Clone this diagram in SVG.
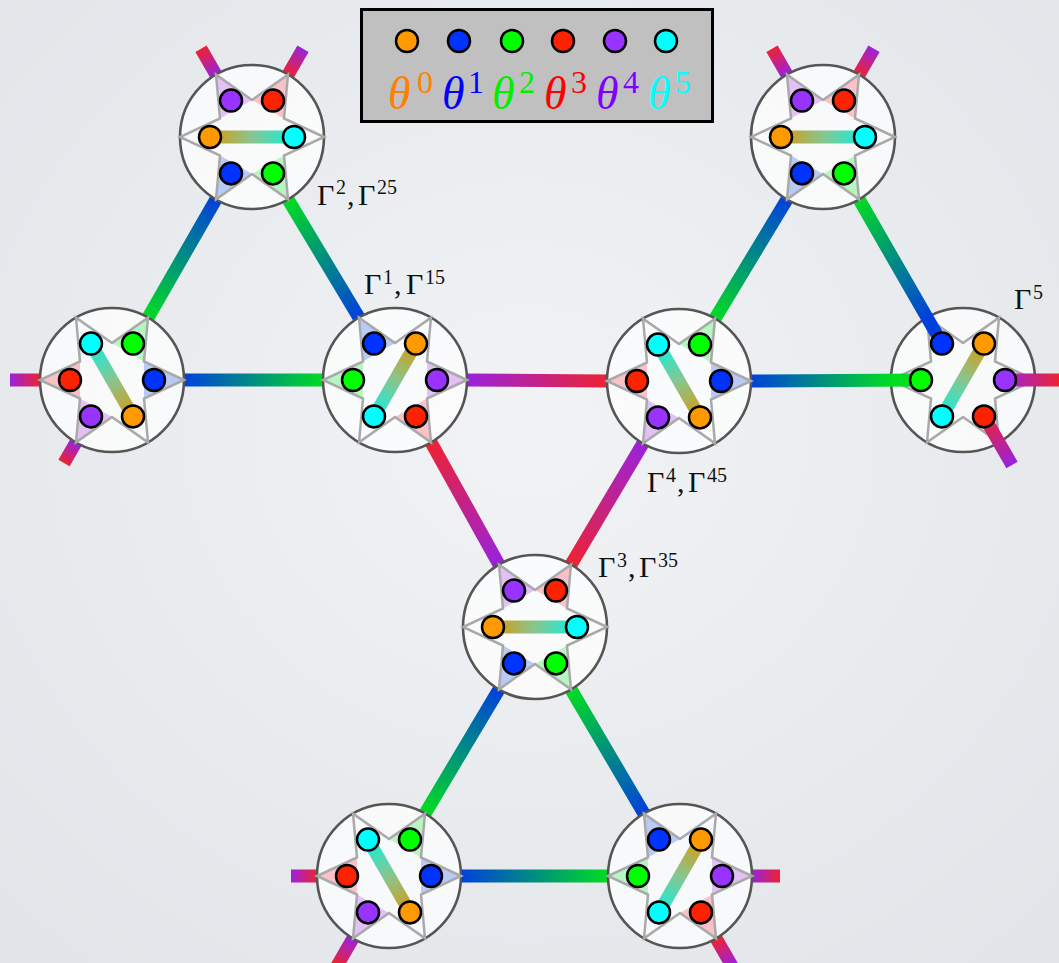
<svg xmlns="http://www.w3.org/2000/svg" width="1059" height="963" viewBox="0 0 1059 963">
<defs>
<style>
.disc{fill:#fff;fill-opacity:.72;stroke:#555;stroke-width:2.6}
.star{fill:none;stroke:#a9a9a9;stroke-width:2.5;stroke-linejoin:miter}
.dot{stroke:#000;stroke-width:2.5}
.bar{stroke-width:13;fill:none}
.link{stroke-width:13;fill:none;stroke-linecap:butt}
.lbl{font-family:"Liberation Serif","DejaVu Serif",serif;font-size:30px;fill:#111}
.sup{font-size:20px}
.th{font-family:"Liberation Serif","DejaVu Serif",serif;font-size:46px;font-style:italic}
.ths{font-style:normal;font-size:32px}
.o{fill:#ff9900}.b{fill:#0033ff}.g{fill:#00ff00}.r{fill:#ff2200}.p{fill:#9933ff}.c{fill:#00ffff}
.tp{fill:#9922dd}.tr{fill:#ee2233}.tb{fill:#0040dd}.tg{fill:#00dd22}
</style>
<radialGradient id="bgG" cx="50%" cy="45%" r="75%">
<stop offset="0" stop-color="#f1f3f5"/>
<stop offset="1" stop-color="#e1e4e8"/>
</radialGradient>
<linearGradient id="BG"><stop offset="0" stop-color="#0040dd"/><stop offset="1" stop-color="#00dd22"/></linearGradient>
<linearGradient id="PR"><stop offset="0" stop-color="#9922dd"/><stop offset="1" stop-color="#ee2233"/></linearGradient>
<linearGradient id="OC"><stop offset="0" stop-color="#d89a10"/><stop offset="0.5" stop-color="#88c590"/><stop offset="1" stop-color="#10f0e0"/></linearGradient>
<linearGradient id="barH" href="#OC" gradientUnits="userSpaceOnUse" x1="-42" y1="0" x2="42" y2="0"/>
<linearGradient id="barB" href="#OC" gradientUnits="userSpaceOnUse" x1="21" y1="36.4" x2="-21" y2="-36.4"/>
<linearGradient id="barC" href="#OC" gradientUnits="userSpaceOnUse" x1="21" y1="-36.4" x2="-21" y2="36.4"/>
<linearGradient id="gc1" href="#BG" gradientUnits="userSpaceOnUse" x1="216" y1="199.35" x2="148" y2="317.65"/>
<linearGradient id="gc2" href="#BG" gradientUnits="userSpaceOnUse" x1="359" y1="317.65" x2="288" y2="199.35"/>
<linearGradient id="gc3" href="#BG" gradientUnits="userSpaceOnUse" x1="184" y1="380" x2="323" y2="380"/>
<linearGradient id="gc4" href="#PR" gradientUnits="userSpaceOnUse" x1="467" y1="380" x2="607" y2="381"/>
<linearGradient id="gc5" href="#PR" gradientUnits="userSpaceOnUse" x1="499" y1="564.65" x2="431" y2="442.35"/>
<linearGradient id="gc6" href="#PR" gradientUnits="userSpaceOnUse" x1="643" y1="443.35" x2="571" y2="564.65"/>
<linearGradient id="gc7" href="#BG" gradientUnits="userSpaceOnUse" x1="787" y1="199.35" x2="715" y2="318.65"/>
<linearGradient id="gc8" href="#BG" gradientUnits="userSpaceOnUse" x1="751" y1="381" x2="891" y2="380"/>
<linearGradient id="gc9" href="#BG" gradientUnits="userSpaceOnUse" x1="927" y1="317.65" x2="859" y2="199.35"/>
<linearGradient id="gc10" href="#BG" gradientUnits="userSpaceOnUse" x1="499" y1="689.35" x2="425" y2="813.65"/>
<linearGradient id="gc11" href="#BG" gradientUnits="userSpaceOnUse" x1="644" y1="813.65" x2="571" y2="689.35"/>
<linearGradient id="gc12" href="#BG" gradientUnits="userSpaceOnUse" x1="461" y1="876" x2="608" y2="876"/>
<linearGradient id="gs1" href="#PR" gradientUnits="userSpaceOnUse" x1="216" y1="74.65" x2="201" y2="48.7"/>
<linearGradient id="gs2" href="#PR" gradientUnits="userSpaceOnUse" x1="303" y1="48.7" x2="288" y2="74.65"/>
<linearGradient id="gs3" href="#PR" gradientUnits="userSpaceOnUse" x1="787" y1="74.65" x2="772" y2="48.7"/>
<linearGradient id="gs4" href="#PR" gradientUnits="userSpaceOnUse" x1="874" y1="48.7" x2="859" y2="74.65"/>
<linearGradient id="gs5" href="#PR" gradientUnits="userSpaceOnUse" x1="10" y1="380" x2="40" y2="380"/>
<linearGradient id="gs6" href="#PR" gradientUnits="userSpaceOnUse" x1="76" y1="442.35" x2="64" y2="463.1"/>
<linearGradient id="gs7" href="#PR" gradientUnits="userSpaceOnUse" x1="1005" y1="380" x2="1059" y2="380"/>
<linearGradient id="gs8" href="#PR" gradientUnits="userSpaceOnUse" x1="1012" y1="465" x2="984" y2="416.4"/>
<linearGradient id="gs9" href="#PR" gradientUnits="userSpaceOnUse" x1="291" y1="876" x2="317" y2="876"/>
<linearGradient id="gs10" href="#PR" gradientUnits="userSpaceOnUse" x1="353" y1="938.35" x2="337" y2="966"/>
<linearGradient id="gs11" href="#PR" gradientUnits="userSpaceOnUse" x1="752" y1="876" x2="780" y2="876"/>
<linearGradient id="gs12" href="#PR" gradientUnits="userSpaceOnUse" x1="732" y1="966" x2="716" y2="938.35"/>
<circle id="disc" class="disc" r="72"/>
<path id="star" class="star" d="M72,0 L32,-18.5 L36,-62.35 L0,-37 L-36,-62.35 L-32,-18.5 L-72,0 L-32,18.5 L-36,62.35 L0,37 L36,62.35 L32,18.5 Z"/>
<g id="tint1">
<polygon class="tp" points="-36,-62.35 0,-37 -32,-18.5"/>
<polygon class="tr" points="36,-62.35 32,-18.5 0,-37"/>
<polygon class="tb" points="-36,62.35 -32,18.5 0,37"/>
<polygon class="tg" points="36,62.35 0,37 32,18.5"/>
</g>
<g id="tint2">
<polygon class="tr" points="-72,0 -32,-18.5 -32,18.5"/>
<polygon class="tb" points="72,0 32,-18.5 32,18.5"/>
<polygon class="tg" points="36,-62.35 32,-18.5 0,-37"/>
<polygon class="tp" points="-36,62.35 -32,18.5 0,37"/>
</g>
<g id="tint3">
<polygon class="tb" points="-36,-62.35 0,-37 -32,-18.5"/>
<polygon class="tg" points="-72,0 -32,-18.5 -32,18.5"/>
<polygon class="tp" points="72,0 32,-18.5 32,18.5"/>
<polygon class="tr" points="36,62.35 0,37 32,18.5"/>
</g>
<g id="ports1">
<line class="bar" x1="-42" y1="0" x2="42" y2="0" stroke="url(#barH)"/>
<circle class="dot p" cx="-21" cy="-36.4" r="11"/>
<circle class="dot r" cx="21" cy="-36.4" r="11"/>
<circle class="dot o" cx="-42" cy="0" r="11"/>
<circle class="dot c" cx="42" cy="0" r="11"/>
<circle class="dot b" cx="-21" cy="36.4" r="11"/>
<circle class="dot g" cx="21" cy="36.4" r="11"/>
</g>
<g id="ports2">
<line class="bar" x1="-21" y1="-36.4" x2="21" y2="36.4" stroke="url(#barB)"/>
<circle class="dot c" cx="-21" cy="-36.4" r="11"/>
<circle class="dot g" cx="21" cy="-36.4" r="11"/>
<circle class="dot r" cx="-42" cy="0" r="11"/>
<circle class="dot b" cx="42" cy="0" r="11"/>
<circle class="dot p" cx="-21" cy="36.4" r="11"/>
<circle class="dot o" cx="21" cy="36.4" r="11"/>
</g>
<g id="bar3">
<line class="bar" x1="21" y1="-36.4" x2="-21" y2="36.4" stroke="url(#barC)"/>
</g>
<g id="dots3">
<circle class="dot b" cx="-21" cy="-36.4" r="11"/>
<circle class="dot o" cx="21" cy="-36.4" r="11"/>
<circle class="dot g" cx="-42" cy="0" r="11"/>
<circle class="dot p" cx="42" cy="0" r="11"/>
<circle class="dot c" cx="-21" cy="36.4" r="11"/>
<circle class="dot r" cx="21" cy="36.4" r="11"/>
</g>
</defs>

<rect x="0" y="0" width="1059" height="963" fill="url(#bgG)"/>

<g id="node-E" transform="translate(963,380)">
<use href="#disc"/><use href="#star"/><use href="#bar3"/>
</g>

<g id="connectors">
<line class="link" x1="216" y1="199.35" x2="148" y2="317.65" stroke="url(#gc1)"/>
<line class="link" x1="288" y1="199.35" x2="359" y2="317.65" stroke="url(#gc2)"/>
<line class="link" x1="184" y1="380" x2="323" y2="380" stroke="url(#gc3)"/>
<line class="link" x1="467" y1="380" x2="607" y2="381" stroke="url(#gc4)"/>
<line class="link" x1="431" y1="442.35" x2="499" y2="564.65" stroke="url(#gc5)"/>
<line class="link" x1="643" y1="443.35" x2="571" y2="564.65" stroke="url(#gc6)"/>
<line class="link" x1="715" y1="318.65" x2="787" y2="199.35" stroke="url(#gc7)"/>
<line class="link" x1="751" y1="381" x2="921" y2="380" stroke="url(#gc8)"/>
<line class="link" x1="859" y1="199.35" x2="942" y2="343.6" stroke="url(#gc9)"/>
<line class="link" x1="499" y1="689.35" x2="425" y2="813.65" stroke="url(#gc10)"/>
<line class="link" x1="571" y1="689.35" x2="644" y2="813.65" stroke="url(#gc11)"/>
<line class="link" x1="461" y1="876" x2="608" y2="876" stroke="url(#gc12)"/>
<line class="link" x1="216" y1="74.65" x2="201" y2="48.7" stroke="url(#gs1)"/>
<line class="link" x1="288" y1="74.65" x2="303" y2="48.7" stroke="url(#gs2)"/>
<line class="link" x1="787" y1="74.65" x2="772" y2="48.7" stroke="url(#gs3)"/>
<line class="link" x1="859" y1="74.65" x2="874" y2="48.7" stroke="url(#gs4)"/>
<line class="link" x1="40" y1="380" x2="10" y2="380" stroke="url(#gs5)"/>
<line class="link" x1="76" y1="442.35" x2="64" y2="463.1" stroke="url(#gs6)"/>
<line class="link" x1="1005" y1="380" x2="1062" y2="380" stroke="url(#gs7)"/>
<line class="link" x1="984" y1="416.4" x2="1012" y2="465" stroke="url(#gs8)"/>
<line class="link" x1="317" y1="876" x2="291" y2="876" stroke="url(#gs9)"/>
<line class="link" x1="353" y1="938.35" x2="337" y2="966" stroke="url(#gs10)"/>
<line class="link" x1="752" y1="876" x2="780" y2="876" stroke="url(#gs11)"/>
<line class="link" x1="716" y1="938.35" x2="732" y2="966" stroke="url(#gs12)"/>
</g>

<g id="node-E-ports" transform="translate(963,380)">
<use href="#dots3"/>
</g>

<g id="node-A" transform="translate(252,137)">
<use href="#tint1"/><use href="#disc"/><use href="#star"/><use href="#ports1"/>
</g>
<g id="node-F" transform="translate(823,137)">
<use href="#tint1"/><use href="#disc"/><use href="#star"/><use href="#ports1"/>
</g>
<g id="node-G" transform="translate(535,627)">
<use href="#tint1"/><use href="#disc"/><use href="#star"/><use href="#ports1"/>
</g>
<g id="node-B" transform="translate(112,380)">
<use href="#tint2"/><use href="#disc"/><use href="#star"/><use href="#ports2"/>
</g>
<g id="node-D" transform="translate(679,381)">
<use href="#tint2"/><use href="#disc"/><use href="#star"/><use href="#ports2"/>
</g>
<g id="node-H" transform="translate(389,876)">
<use href="#tint2"/><use href="#disc"/><use href="#star"/><use href="#ports2"/>
</g>
<g id="node-C" transform="translate(395,380)">
<use href="#tint3"/><use href="#disc"/><use href="#star"/><use href="#bar3"/><use href="#dots3"/>
</g>
<g id="node-I" transform="translate(680,876)">
<use href="#tint3"/><use href="#disc"/><use href="#star"/><use href="#bar3"/><use href="#dots3"/>
</g>

<g id="labels">
<text class="lbl" x="317" y="205">Γ<tspan class="sup" x="336" y="194">2</tspan><tspan x="347" y="205">,</tspan><tspan x="358" y="205">Γ</tspan><tspan class="sup" x="377" y="194">25</tspan></text>
<text class="lbl" x="364" y="294">Γ<tspan class="sup" x="383" y="284">1</tspan><tspan x="394" y="294">,</tspan><tspan x="406" y="294">Γ</tspan><tspan class="sup" x="425" y="284">15</tspan></text>
<text class="lbl" x="647" y="492">Γ<tspan class="sup" x="666" y="482">4</tspan><tspan x="677" y="492">,</tspan><tspan x="688" y="492">Γ</tspan><tspan class="sup" x="707" y="482">45</tspan></text>
<text class="lbl" x="598" y="577">Γ<tspan class="sup" x="617" y="567">3</tspan><tspan x="628" y="577">,</tspan><tspan x="639" y="577">Γ</tspan><tspan class="sup" x="658" y="567">35</tspan></text>
<text class="lbl" x="1014" y="309">Γ<tspan class="sup" x="1033" y="299">5</tspan></text>
</g>

<g id="legend">
<rect x="361.5" y="9.5" width="351" height="112" fill="#c0c0c0" stroke="#000" stroke-width="3"/>
<circle class="dot o" cx="407" cy="41" r="11"/>
<circle class="dot b" cx="459" cy="41" r="11"/>
<circle class="dot g" cx="512" cy="41" r="11"/>
<circle class="dot r" cx="563" cy="41" r="11"/>
<circle class="dot p" cx="615" cy="41" r="11"/>
<circle class="dot c" cx="666" cy="41" r="11"/>
<text class="th" x="388" y="109" fill="#ff8000">θ<tspan class="ths" x="417" y="93">0</tspan></text>
<text class="th" x="442" y="109" fill="#0000ff">θ<tspan class="ths" x="468" y="93">1</tspan></text>
<text class="th" x="492" y="109" fill="#00ee00">θ<tspan class="ths" x="519" y="93">2</tspan></text>
<text class="th" x="544" y="109" fill="#ff0000">θ<tspan class="ths" x="571" y="93">3</tspan></text>
<text class="th" x="596" y="109" fill="#8000ff">θ<tspan class="ths" x="623" y="93">4</tspan></text>
<text class="th" x="648" y="109" fill="#00ffff">θ<tspan class="ths" x="675" y="93">5</tspan></text>
</g>
</svg>
